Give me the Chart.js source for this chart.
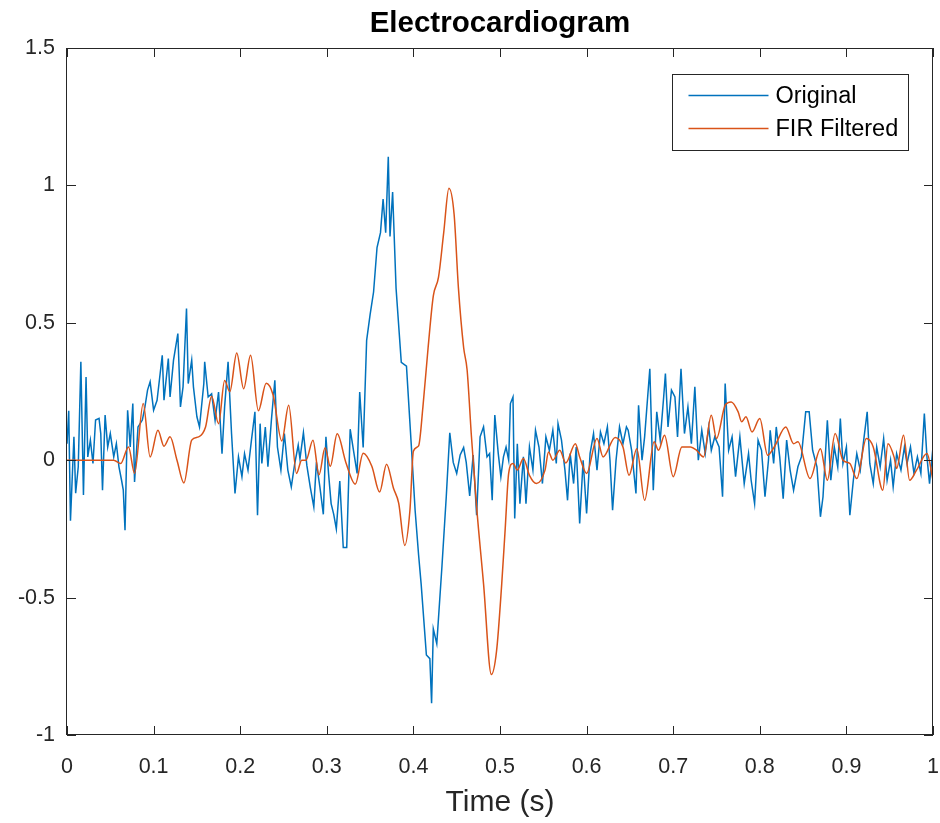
<!DOCTYPE html>
<html>
<head>
<meta charset="utf-8">
<script src="https://cdn.jsdelivr.net/npm/chart.js@4.4.1/dist/chart.umd.min.js"></script>
<style>html,body{margin:0;padding:0;background:#fff;}canvas{display:block;}</style>
</head>
<body>
<canvas id="c" width="940" height="823"></canvas>
<script>
// ---- data: [time (s), amplitude] ----
const originalSignal = [
[0,0.06],[0.002,0.18],[0.004,-0.22],[0.008,0.085],[0.010,-0.12],[0.013,-0.024],[0.016,0.358],[0.019,-0.127],[0.022,0.303],[0.024,0.012],
[0.027,0.073],[0.030,-0.012],[0.033,0.146],[0.037,0.152],[0.039,0.097],[0.041,-0.109],[0.044,0.164],[0.047,0.048],[0.050,0.097],[0.054,0.012],
[0.057,0.06],[0.060,-0.024],[0.063,-0.073],[0.065,-0.109],[0.067,-0.255],[0.070,0.182],[0.073,0.048],[0.076,0.206],[0.078,-0.079],[0.082,0.121],
[0.087,0.146],[0.090,0.194],[0.093,0.255],[0.096,0.285],[0.100,0.182],[0.104,0.218],[0.110,0.382],[0.112,0.218],[0.117,0.37],[0.119,0.23],
[0.123,0.364],[0.128,0.461],[0.131,0.194],[0.134,0.267],[0.138,0.552],[0.140,0.279],[0.144,0.364],[0.146,0.267],[0.150,0.158],[0.153,0.121],
[0.158,0.279],[0.159,0.358],[0.163,0.23],[0.167,0.242],[0.171,0.145],[0.175,0.248],[0.179,0.024],[0.182,0.194],[0.186,0.358],[0.190,0.097],
[0.194,-0.121],[0.198,0.012],[0.202,-0.06],[0.205,0.024],[0.209,-0.036],[0.213,0.073],[0.217,0.176],[0.220,-0.2],[0.223,0.133],[0.225,-0.012],
[0.229,0.121],[0.232,-0.024],[0.236,0.145],[0.240,0.291],[0.243,0.048],[0.247,-0.036],[0.251,0.097],[0.255,-0.036],[0.259,-0.097],[0.263,-0.012],
[0.267,0.055],[0.269,0.005],[0.273,0.1],[0.277,-0.02],[0.281,-0.1],[0.285,-0.17],[0.288,-0.008],[0.292,-0.097],[0.296,-0.197],[0.299,0.085],
[0.302,-0.048],[0.305,-0.158],[0.308,-0.197],[0.311,-0.25],[0.315,-0.076],[0.319,-0.318],[0.323,-0.318],[0.327,0.113],[0.331,0.032],[0.335,-0.048],
[0.338,0.248],[0.342,0.046],[0.346,0.436],[0.350,0.53],[0.354,0.612],[0.358,0.774],[0.362,0.828],[0.365,0.95],[0.368,0.828],[0.371,1.104],
[0.373,0.814],[0.376,0.976],[0.380,0.625],[0.386,0.356],[0.392,0.342],[0.398,0.032],[0.402,-0.183],[0.406,-0.345],[0.409,-0.453],[0.415,-0.709],
[0.419,-0.722],[0.421,-0.884],[0.423,-0.614],[0.427,-0.668],[0.433,-0.385],[0.438,-0.13],[0.442,0.1],[0.446,-0.008],[0.450,-0.048],[0.454,0.019],
[0.458,0.046],[0.461,-0.008],[0.465,-0.13],[0.469,0.019],[0.473,-0.2],[0.477,0.085],[0.481,0.121],[0.485,0.012],[0.488,0.024],[0.491,-0.146],
[0.494,0.164],[0.498,0.024],[0.501,-0.06],[0.504,0.012],[0.507,0.048],[0.510,0.0],[0.512,0.206],[0.515,0.23],[0.517,-0.212],[0.520,0.06],
[0.523,-0.158],[0.527,0.012],[0.530,-0.158],[0.534,0.048],[0.538,-0.036],[0.541,0.109],[0.545,0.048],[0.549,-0.085],[0.553,0.085],[0.557,0.036],
[0.561,0.109],[0.565,-0.012],[0.567,0.133],[0.571,0.073],[0.575,-0.036],[0.578,-0.146],[0.581,0.024],[0.585,-0.085],[0.588,0.048],[0.592,-0.23],
[0.596,0.0],[0.600,-0.194],[0.604,0.024],[0.608,0.097],[0.612,-0.036],[0.616,0.103],[0.620,0.06],[0.624,0.121],[0.627,0.0],[0.630,-0.182],
[0.634,0.0],[0.638,0.121],[0.642,0.06],[0.646,0.121],[0.648,0.109],[0.652,0.036],[0.657,-0.121],[0.660,0.2],[0.664,0.0],[0.667,0.085],
[0.673,0.333],[0.677,-0.109],[0.681,0.176],[0.685,0.073],[0.689,0.23],[0.691,0.315],[0.694,0.121],[0.698,0.255],[0.702,0.23],[0.705,0.085],
[0.709,0.333],[0.713,0.097],[0.717,0.194],[0.721,0.06],[0.725,0.267],[0.729,0.0],[0.733,0.109],[0.737,0.024],[0.741,0.121],[0.744,0.036],
[0.748,0.085],[0.753,0.048],[0.757,-0.133],[0.760,0.279],[0.764,0.036],[0.768,0.085],[0.772,-0.06],[0.777,0.085],[0.782,-0.085],[0.787,0.024],
[0.790,-0.073],[0.794,-0.158],[0.798,0.073],[0.802,0.036],[0.806,-0.133],[0.810,0.0],[0.812,0.109],[0.816,-0.012],[0.819,0.121],[0.823,0.012],
[0.827,-0.14],[0.831,0.073],[0.835,-0.036],[0.839,-0.109],[0.844,-0.024],[0.848,0.012],[0.853,0.176],[0.857,0.176],[0.861,0.036],[0.866,-0.024],
[0.870,-0.206],[0.873,-0.133],[0.878,0.145],[0.882,-0.073],[0.886,0.048],[0.890,-0.024],[0.893,0.152],[0.896,-0.012],[0.900,0.048],[0.904,-0.2],
[0.908,-0.073],[0.912,0.024],[0.916,-0.036],[0.920,0.073],[0.924,0.176],[0.927,-0.012],[0.931,-0.085],[0.935,0.048],[0.939,-0.024],[0.943,0.079],
[0.947,-0.073],[0.951,0.0],[0.954,-0.097],[0.958,0.024],[0.963,-0.036],[0.967,0.048],[0.970,-0.012],[0.974,0.048],[0.978,-0.048],[0.982,0.012],
[0.986,-0.048],[0.990,0.17],[0.993,0.012],[0.996,-0.085],[1.000,0.048]
];

const filteredSignal = [
[0,0],[0.054,0],[0.062,-0.012],[0.071,0.048],[0.078,-0.048],[0.088,0.206],[0.096,0.012],[0.105,0.109],[0.112,0.051],[0.119,0.085],
[0.127,0.0],[0.135,-0.083],[0.144,0.073],[0.152,0.085],[0.160,0.121],[0.167,0.233],[0.175,0.133],[0.182,0.29],[0.188,0.249],[0.196,0.39],
[0.204,0.26],[0.212,0.382],[0.221,0.18],[0.230,0.28],[0.238,0.237],[0.248,0.07],[0.256,0.2],[0.265,-0.048],[0.271,0.0],[0.276,0.0],
[0.284,0.073],[0.291,-0.053],[0.298,0.045],[0.304,-0.022],[0.312,0.096],[0.322,-0.008],[0.333,-0.087],[0.342,0.025],[0.352,-0.022],[0.361,-0.116],
[0.369,-0.015],[0.377,-0.102],[0.383,-0.156],[0.390,-0.31],[0.396,-0.182],[0.400,0.033],[0.406,0.052],[0.411,0.194],[0.417,0.41],[0.423,0.598],
[0.429,0.666],[0.435,0.828],[0.441,0.99],[0.447,0.895],[0.452,0.626],[0.458,0.41],[0.462,0.329],[0.467,0.087],[0.473,-0.17],[0.481,-0.45],
[0.490,-0.78],[0.496,-0.695],[0.502,-0.45],[0.506,-0.25],[0.510,-0.048],[0.515,-0.012],[0.520,-0.036],[0.527,0.006],[0.534,-0.055],[0.542,-0.085],
[0.552,-0.036],[0.556,0.03],[0.561,0.0],[0.569,0.036],[0.576,-0.01],[0.587,0.06],[0.592,0.012],[0.600,-0.048],[0.612,0.079],[0.619,0.012],
[0.633,0.083],[0.642,0.048],[0.649,-0.055],[0.658,0.042],[0.667,-0.146],[0.678,0.067],[0.683,0.036],[0.690,0.091],[0.700,-0.06],[0.710,0.048],
[0.720,0.048],[0.727,0.036],[0.735,0.012],[0.744,0.164],[0.750,0.079],[0.760,0.2],[0.767,0.212],[0.775,0.176],[0.779,0.14],[0.784,0.158],
[0.791,0.103],[0.800,0.152],[0.809,0.018],[0.817,0.05],[0.830,0.121],[0.839,0.06],[0.844,0.067],[0.858,-0.067],[0.870,0.042],[0.878,-0.073],
[0.887,0.097],[0.896,0.0],[0.904,-0.012],[0.912,-0.067],[0.923,0.079],[0.931,0.048],[0.942,-0.109],[0.948,0.06],[0.955,0.012],[0.958,-0.03],
[0.966,0.091],[0.973,-0.073],[0.981,-0.036],[0.993,0.024],[1.000,-0.073]
];

const seriesNames = ['Original', 'FIR Filtered'];
const seriesColors = ['#0072BD', '#D95319'];
const xTicks = [0, 0.1, 0.2, 0.3, 0.4, 0.5, 0.6, 0.7, 0.8, 0.9, 1];
const xTickLabels = ['0', '0.1', '0.2', '0.3', '0.4', '0.5', '0.6', '0.7', '0.8', '0.9', '1'];
const yTicks = [-1, -0.5, 0, 0.5, 1, 1.5];
const yTickLabels = ['-1', '-0.5', '0', '0.5', '1', '1.5'];
const chartTitle = 'Electrocardiogram';
const xAxisTitle = 'Time (s)';

const FONT = '"Liberation Sans", Arial, Helvetica, sans-serif';
const AXIS_COLOR = '#262626';

// MATLAB-like box, inside ticks, title and legend
const matlabDecor = {
  id: 'matlabDecor',
  afterDatasetsDraw(chart) {
    const { ctx, chartArea: a, scales: { x, y } } = chart;
    ctx.save();
    ctx.strokeStyle = AXIS_COLOR;
    ctx.lineWidth = 1;
    ctx.strokeRect(Math.round(a.left) - 0.5, Math.round(a.top) + 0.5,
                   Math.round(a.right - a.left), Math.round(a.bottom - a.top) - 1);
    const L = 9;
    ctx.beginPath();
    x.ticks.forEach(t => {
      const px = Math.round(x.getPixelForValue(t.value)) + 0.5;
      ctx.moveTo(px, a.bottom); ctx.lineTo(px, a.bottom - L);
      ctx.moveTo(px, a.top); ctx.lineTo(px, a.top + L);
    });
    y.ticks.forEach(t => {
      const py = Math.round(y.getPixelForValue(t.value)) + 0.5;
      ctx.moveTo(a.left, py); ctx.lineTo(a.left + L, py);
      ctx.moveTo(a.right, py); ctx.lineTo(a.right - L, py);
    });
    ctx.stroke();

    // legend
    const lw = 236, lh = 76;
    const lx = Math.round(a.right - 25 - lw) + 0.5;
    const ly = Math.round(a.top + 26) + 0.5;
    ctx.fillStyle = '#fff';
    ctx.fillRect(lx, ly, lw, lh);
    ctx.strokeStyle = AXIS_COLOR;
    ctx.strokeRect(lx, ly, lw, lh);
    ctx.font = '23.5px ' + FONT;
    ctx.textBaseline = 'middle';
    ctx.textAlign = 'left';
    chart.data.datasets.forEach((ds, i) => {
      const yy = ly + 21 + i * 33;
      ctx.strokeStyle = ds.borderColor;
      ctx.lineWidth = 1.5;
      ctx.beginPath();
      ctx.moveTo(lx + 16, yy); ctx.lineTo(lx + 96, yy);
      ctx.stroke();
      ctx.fillStyle = '#000';
      ctx.fillText(ds.label, lx + 103, yy + 1);
    });

    // title
    ctx.fillStyle = '#000';
    ctx.font = 'bold 29.5px ' + FONT;
    ctx.textAlign = 'center';
    ctx.textBaseline = 'middle';
    ctx.fillText(chartTitle, (a.left + a.right) / 2, 24);
    ctx.restore();
  }
};

new Chart(document.getElementById('c'), {
  type: 'line',
  data: {
    datasets: [
      {
        label: seriesNames[0],
        data: originalSignal,
        borderColor: seriesColors[0],
        borderWidth: 1.5,
        pointRadius: 0,
        tension: 0,
        order: 1
      },
      {
        label: seriesNames[1],
        data: filteredSignal,
        borderColor: seriesColors[1],
        borderWidth: 1.5,
        pointRadius: 0,
        cubicInterpolationMode: 'monotone',
        order: 0
      }
    ]
  },
  options: {
    responsive: false,
    animation: false,
    events: [],
    layout: { padding: { left: 0, right: 7, top: 48, bottom: 0 } },
    plugins: {
      legend: { display: false },
      title: { display: false },
      tooltip: { enabled: false }
    },
    scales: {
      x: {
        type: 'linear',
        min: 0, max: 1,
        grid: { display: false, drawTicks: false },
        border: { display: false },
        afterBuildTicks: s => { s.ticks = xTicks.map(v => ({ value: v })); },
        afterFit: s => { s.height = 88; s.paddingLeft = 0; s.paddingRight = 0; },
        ticks: {
          callback: (v, i) => xTickLabels[i],
          color: AXIS_COLOR,
          font: { family: FONT, size: 21.5 },
          padding: 19,
          maxRotation: 0,
          autoSkip: false
        },
        title: {
          display: true,
          text: xAxisTitle,
          color: AXIS_COLOR,
          font: { family: FONT, size: 30 },
          padding: { top: 0, bottom: 2 }
        }
      },
      y: {
        type: 'linear',
        min: -1, max: 1.5,
        grid: { display: false, drawTicks: false },
        border: { display: false },
        afterBuildTicks: s => { s.ticks = yTicks.map(v => ({ value: v })); },
        afterFit: s => { s.width = 67; s.paddingTop = 0; s.paddingBottom = 0; },
        ticks: {
          callback: (v, i) => yTickLabels[i],
          color: AXIS_COLOR,
          font: { family: FONT, size: 21.5 },
          padding: 12,
          autoSkip: false
        }
      }
    }
  },
  plugins: [matlabDecor]
});
</script>
</body>
</html>
